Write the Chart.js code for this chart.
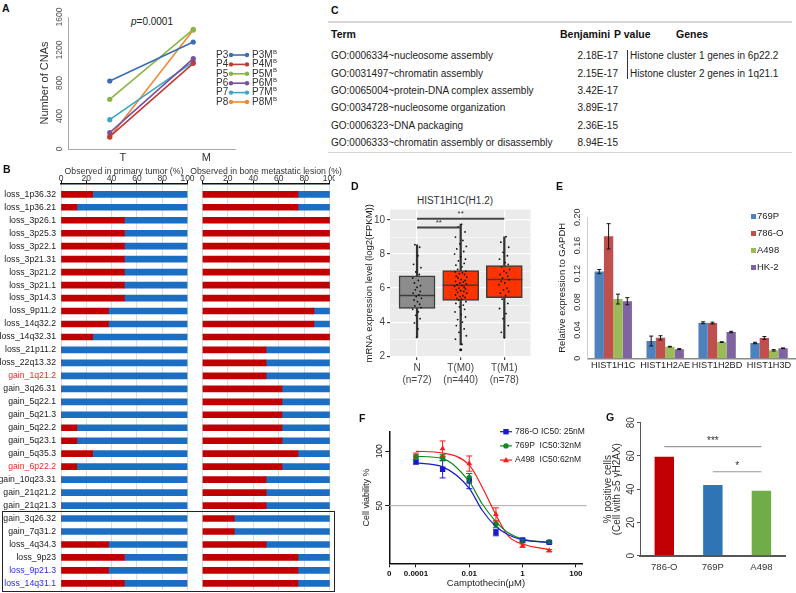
<!DOCTYPE html>
<html>
<head>
<meta charset="utf-8">
<title>CNA / histone figure</title>
<script src="https://cdn.jsdelivr.net/npm/chart.js"></script>
<style>
  body { margin: 0; background: #fff; font-family: "Liberation Sans", Arial, sans-serif; color: #222; }
  #fig { position: relative; width: 796px; height: 593px; overflow: hidden; }
  .t { position: absolute; white-space: nowrap; line-height: 12px; }
  .letter { position: absolute; font-weight: bold; font-size: 10.5px; line-height: 12px; color: #111; }
</style>
</head>
<body>
<div id="fig"></div>
<script>
// ---- A: number of CNAs, primary (T) vs bone metastasis (M)
const cnaStages = ['T', 'M'];
const cnaPatients = ['P3', 'P4', 'P5', 'P6', 'P7', 'P8'];
const cnaPrimary = [824, 150, 602, 198, 355, 142];
const cnaMetastasis = [1297, 1039, 1450, 1095, 1055, 1442];

// ---- B: % of samples with each region
const cnaRegions = ['loss_1p36.32', 'loss_1p36.21', 'loss_3p26.1', 'loss_3p25.3', 'loss_3p22.1', 'loss_3p21.31',
  'loss_3p21.2', 'loss_3p21.1', 'loss_3p14.3', 'loss_9p11.2', 'loss_14q32.2', 'loss_14q32.31', 'loss_21p11.2',
  'loss_22q13.32', 'gain_1q21.2', 'gain_3q26.31', 'gain_5q22.1', 'gain_5q21.3', 'gain_5q22.2', 'gain_5q23.1',
  'gain_5q35.3', 'gain_6p22.2', 'gain_10q23.31', 'gain_21q21.2', 'gain_21q21.3', 'gain_3q26.32', 'gain_7q31.2',
  'loss_4q34.3', 'loss_9p23', 'loss_9p21.3', 'loss_14q31.1'];
const primaryPct = [25, 12.5, 50, 50, 50, 50, 50, 50, 50, 37.5, 37.5, 25, 0, 0,
  0, 0, 0, 0, 12.5, 12.5, 25, 12.5, 0, 0, 0, 0, 0, 37.5, 50, 37.5, 50];
const boneMetPct = [75, 75, 100, 100, 100, 100, 100, 100, 100, 87.5, 87.5, 100, 50, 50,
  50, 62.5, 62.5, 62.5, 62.5, 62.5, 75, 62.5, 50, 50, 50, 25, 25, 50, 75, 75, 75];
const redRegions = ['gain_1q21.2', 'gain_6p22.2'];
const blueRegions = ['loss_9p21.3', 'loss_14q31.1'];

// ---- C: GO table
const goTerms = ['GO:0006334~nucleosome assembly', 'GO:0031497~chromatin assembly',
  'GO:0065004~protein-DNA complex assembly', 'GO:0034728~nucleosome organization',
  'GO:0006323~DNA packaging', 'GO:0006333~chromatin assembly or disassembly'];
const goBenjamini = ['2.18E-17', '2.15E-17', '3.42E-17', '3.89E-17', '2.36E-15', '8.94E-15'];
const goGenes = ['Histone cluster 1 genes in 6p22.2', 'Histone cluster 2 genes in 1q21.1'];

// ---- D: HIST1H1C expression boxplot
const fpkmGroups = ['N', 'T(M0)', 'T(M1)'];
const fpkmCounts = ['(n=72)', '(n=440)', '(n=78)'];
const fpkmLow = [3.1, 2.66, 3.08];
const fpkmQ1 = [4.81, 5.27, 5.44];
const fpkmMedian = [5.57, 6.17, 6.5];
const fpkmQ3 = [6.72, 7.03, 7.32];
const fpkmHigh = [8.55, 9.77, 9.02];
const fpkmTicks = [2, 3, 4, 5, 6, 7, 8, 9, 10];
// [jitter, value] pairs
const fpkmDotsN = [[-0.05, 8.55], [0.06, 8.4], [0.02, 7.9], [-0.08, 7.4], [0.09, 7.2], [-0.03, 6.95], [0.05, 6.8],
  [-0.1, 6.6], [0.03, 6.45], [-0.06, 6.3], [0.08, 6.15], [0, 6.05], [-0.04, 5.9], [0.07, 5.8], [-0.09, 5.7],
  [0.04, 5.6], [-0.02, 5.5], [0.1, 5.4], [-0.07, 5.3], [0.01, 5.2], [0.06, 5.05], [-0.05, 4.95], [0.09, 4.85],
  [-0.1, 4.75], [0.03, 4.6], [-0.03, 4.4], [0.07, 4.2], [-0.06, 3.95], [0.02, 3.6], [-0.01, 3.1]];
const fpkmDotsM0 = [[0.02, 9.75], [-0.06, 9.6], [0.1, 9.3], [-0.12, 9.0], [0.05, 8.8], [-0.02, 8.6], [0.13, 8.45],
  [-0.09, 8.3], [0.07, 8.15], [-0.14, 8.0], [0, 7.85], [0.11, 7.7], [-0.05, 7.6], [0.08, 7.45], [-0.11, 7.35],
  [0.03, 7.25], [-0.07, 7.1], [0.12, 7.0], [-0.13, 6.95], [0.04, 6.9], [-0.03, 6.85], [0.09, 6.8], [-0.1, 6.7],
  [0.14, 6.65], [-0.06, 6.6], [0.01, 6.5], [0.1, 6.45], [-0.12, 6.4], [0.06, 6.35], [-0.02, 6.3], [0.13, 6.25],
  [-0.08, 6.2], [0.03, 6.15], [-0.14, 6.1], [0.08, 6.05], [-0.04, 6.0], [0.11, 5.95], [-0.1, 5.9], [0, 5.85],
  [0.07, 5.8], [-0.07, 5.75], [0.14, 5.7], [-0.12, 5.6], [0.05, 5.55], [-0.01, 5.5], [0.1, 5.45], [-0.09, 5.4],
  [0.02, 5.35], [-0.05, 5.3], [0.12, 5.2], [-0.11, 5.1], [0.06, 5.0], [-0.03, 4.9], [0.09, 4.75], [-0.13, 4.6],
  [0.01, 4.45], [0.11, 4.3], [-0.07, 4.15], [0.04, 4.0], [-0.1, 3.8], [0.08, 3.6], [-0.04, 3.4], [0.13, 3.2],
  [-0.12, 3.0], [0.03, 2.7]];
const fpkmDotsM1 = [[0.04, 9.02], [-0.08, 8.7], [0.1, 8.4], [-0.03, 8.1], [0.07, 7.9], [-0.11, 7.7], [0.02, 7.5],
  [0.09, 7.4], [-0.06, 7.25], [0.12, 7.1], [-0.01, 7.0], [0.05, 6.9], [-0.1, 6.8], [0.08, 6.7], [-0.04, 6.6],
  [0.11, 6.5], [-0.07, 6.4], [0.01, 6.3], [-0.12, 6.2], [0.06, 6.0], [-0.02, 5.9], [0.1, 5.8], [-0.09, 5.7],
  [0.03, 5.55], [-0.05, 5.35], [0.08, 5.1], [-0.11, 4.8], [0.04, 4.5], [-0.03, 4.2], [0.09, 3.8], [-0.07, 3.4],
  [0, 3.08]];
const fpkmOutliers = [[1, 2.37]];
const fpkmSig = [{ from: 0, to: 1, y: 9.56, text: '**' }, { from: 0, to: 2, y: 10.07, text: '**' }];

// ---- E: relative expression to GAPDH
const histGenes = ['HIST1H1C', 'HIST1H2AE', 'HIST1H2BD', 'HIST1H3D'];
const cellLines = ['769P', '786-O', 'A498', 'HK-2'];
const rel769P = [0.123, 0.0245, 0.0505, 0.0217];
const rel786O = [0.173, 0.029, 0.050, 0.0288];
const relA498 = [0.084, 0.0165, 0.023, 0.0113];
const relHK2 = [0.081, 0.013, 0.0373, 0.0142];
const err769P = [0.003, 0.007, 0.0013, 0.001];
const err786O = [0.018, 0.003, 0.0013, 0.002];
const errA498 = [0.007, 0.0005, 0.0005, 0.001];
const errHK2 = [0.005, 0.0007, 0.001, 0.0005];

// ---- F: camptothecin dose response
const viaDose = [0.0001, 0.001, 0.01, 0.1, 1, 10];
const via786O = [90.2, 83.5, 72.6, 25.3, 18.4, 16.2];
const via769P = [94.8, 94.2, 75.6, 33, 17.5, 16.5];
const viaA498 = [95.4, 102.5, 88.7, 42, 13.2, 8.6];
const sd786O = [2, 8, 7, 3, 1, 1];
const sd769P = [2, 3, 4, 3, 1, 1];
const sdA498 = [3, 7, 7, 6, 1.5, 1];
const fitDose = [0.0001, 0.001, 0.01, 0.03, 0.1, 0.3, 1, 10];
const fit786O = [89.3, 85.7, 66, 46, 30.8, 23, 18.6, 16.2];
const fit769P = [95.4, 93.3, 72, 52, 35.4, 24.8, 19.3, 16.2];
const fitA498 = [100, 98.4, 87.2, 67.4, 41.5, 21.7, 14.7, 9.5];
const viaLegend = ['786-O IC50: 25nM', '769P  IC50:32nM', 'A498  IC50:62nM'];
const doseTicks = [0.00001, 0.0001, 0.01, 1, 100];
const doseTickLabels = ['0', '0.0001', '0.01', '1', '100'];

// ---- G: gamma-H2AX positive cells
const gammaLines = ['786-O', '769P', 'A498'];
const gammaPositive = [59.5, 42.5, 39.1];
const gammaTicks = [0, 20, 40, 60, 80];
const gammaSig = [{ from: 0, to: 2, y: 65.6, text: '***' }, { from: 1, to: 2, y: 50.5, text: '*' }];

// ---- styles
const FONT = '"Liberation Sans", Arial, sans-serif';
const patientColors = ['#3b6db4', '#c23b33', '#8ab546', '#7a4f9d', '#37a8c3', '#ef8a30'];
const cellColors = ['#4f81bd', '#c0504d', '#9bbb59', '#8064a2'];
const gammaColors = ['#c00000', '#2e75b6', '#70ad47'];

Chart.defaults.font.family = FONT;
Chart.defaults.color = '#333';
Chart.defaults.animation = false;
Chart.defaults.responsive = false;
Chart.defaults.events = [];
Chart.defaults.plugins.legend.display = false;
Chart.defaults.plugins.tooltip.enabled = false;

const fig = document.getElementById('fig');

function addCanvas(left, top, w, h) {
  const c = document.createElement('canvas');
  c.width = w; c.height = h;
  c.style.cssText = `position:absolute;left:${left}px;top:${top}px;width:${w}px;height:${h}px`;
  fig.appendChild(c);
  return c;
}
function addText(html, x, y, css, cls) {
  const d = document.createElement('div');
  d.className = cls || 't';
  d.innerHTML = html;
  d.style.cssText = `left:${x}px;top:${y - 6}px;` + (css || '');
  fig.appendChild(d);
  return d;
}
function addBox(x, y, w, h, css) {
  const d = document.createElement('div');
  d.style.cssText = `position:absolute;left:${x}px;top:${y}px;width:${w}px;height:${h}px;` + css;
  fig.appendChild(d);
}
// fixed axis box sizes, and no extra label padding from Chart.js
function fixBox(w, h) {
  return s => {
    if (w !== null) s.width = w;
    if (h !== null) s.height = h;
    s.paddingLeft = s.paddingRight = s.paddingTop = s.paddingBottom = 0;
  };
}

// rotated y tick labels (read bottom-to-top like the original)
function rotatedTicks(gap, font, color, fmt) {
  return {
    id: 'rotatedTicks',
    afterDatasetsDraw(chart) {
      const s = chart.scales.y, ctx = chart.ctx;
      const x = chart.chartArea.left - gap;
      ctx.save();
      ctx.font = font;
      ctx.fillStyle = color;
      ctx.textAlign = 'center';
      ctx.textBaseline = 'middle';
      s.ticks.forEach(t => {
        const label = fmt(t.value);
        if (label === '') return;
        ctx.save();
        ctx.translate(x, s.getPixelForValue(t.value));
        ctx.rotate(-Math.PI / 2);
        ctx.fillText(label, 0, 0);
        ctx.restore();
      });
      ctx.restore();
    }
  };
}

function sigLines(items, st) {
  return {
    id: 'sigLines',
    afterDatasetsDraw(chart) {
      const { ctx, scales: { x, y } } = chart;
      ctx.save();
      items.forEach(it => {
        const x1 = x.getPixelForValue(it.from), x2 = x.getPixelForValue(it.to), yy = y.getPixelForValue(it.y);
        ctx.strokeStyle = st.color; ctx.lineWidth = st.width;
        ctx.beginPath(); ctx.moveTo(x1, yy); ctx.lineTo(x2, yy); ctx.stroke();
        ctx.fillStyle = st.textColor; ctx.font = st.font;
        ctx.textAlign = 'center'; ctx.textBaseline = 'bottom';
        ctx.fillText(it.text, (x1 + x2) / 2, yy - st.gap);
      });
      ctx.restore();
    }
  };
}

// ================= A =================
addText('A', 2, 7.5, '', 'letter');
addText('<i>p</i>=0.0001', 152, 22, 'font-size:10px;transform:translateX(-50%);color:#222');

const legendA = {
  id: 'legendA',
  afterDraw(chart) {
    const ctx = chart.ctx;
    ctx.save();
    ctx.textBaseline = 'middle'; ctx.textAlign = 'left';
    chart.data.datasets.forEach((ds, i) => {
      const y = 55 + i * 9.4;
      ctx.font = '10px ' + FONT; ctx.fillStyle = '#333';
      ctx.fillText(ds.label, 216, y);
      ctx.strokeStyle = ds.borderColor; ctx.fillStyle = ds.borderColor; ctx.lineWidth = 1.6;
      ctx.beginPath(); ctx.moveTo(231, y); ctx.lineTo(247, y); ctx.stroke();
      [231, 247].forEach(px => { ctx.beginPath(); ctx.arc(px, y, 2.2, 0, Math.PI * 2); ctx.fill(); });
      ctx.fillStyle = '#333';
      const t = ds.label + 'M';
      ctx.fillText(t, 252, y);
      const w = ctx.measureText(t).width;
      ctx.font = '6px ' + FONT;
      ctx.fillText('B', 252 + w + 0.5, y - 3);
    });
    ctx.restore();
  }
};

new Chart(addCanvas(0, 0, 290, 170), {
  type: 'line',
  data: {
    labels: cnaStages,
    datasets: cnaPatients.map((p, i) => ({
      label: p,
      data: [cnaPrimary[i], cnaMetastasis[i]],
      borderColor: patientColors[i],
      backgroundColor: patientColors[i],
      borderWidth: 1.6,
      pointRadius: 2.6,
      pointBorderWidth: 0
    }))
  },
  options: {
    layout: { padding: { top: 17, right: 55, left: 0, bottom: 0 } },
    scales: {
      x: {
        offset: true,
        grid: { display: false, drawTicks: false },
        border: { color: '#aaa' },
        ticks: { font: { size: 11 }, color: '#333', labelOffset: 13, padding: 2 },
        afterFit: fixBox(null, 21)
      },
      y: {
        min: 0, max: 1600,
        ticks: { stepSize: 400, display: false },
        grid: { display: false, drawTicks: false },
        border: { color: '#aaa' },
        title: { display: true, text: 'Number of CNAs', font: { size: 11 }, color: '#333', padding: { top: 38 } },
        afterFit: fixBox(68, null)
      }
    }
  },
  plugins: [rotatedTicks(8, '8.5px ' + FONT, '#555', v => String(v)), legendA]
});

// ================= B =================
addText('B', 3, 169, '', 'letter');
addText('Observed in primary tumor (%)', 124, 171, 'font-size:8.7px;transform:translateX(-50%);color:#333');
addText('Observed in bone metastatic lesion (%)', 266, 171, 'font-size:8.7px;transform:translateX(-50%);color:#333');

function regionColor(r) {
  if (redRegions.includes(r)) return '#ee2a2a';
  if (blueRegions.includes(r)) return '#2a2aee';
  return '#222';
}

function regionChart(canvas, pct, showLabels, yWidth, rightPad) {
  return new Chart(canvas, {
    type: 'bar',
    data: {
      datasets: [
        { data: pct.map((v, i) => ({ x: [0, v], y: i })), backgroundColor: '#c00000', barThickness: 6, grouped: false },
        { data: pct.map((v, i) => ({ x: [v, 100], y: i })), backgroundColor: '#1b6ec2', barThickness: 6, grouped: false }
      ]
    },
    options: {
      indexAxis: 'y',
      layout: { padding: { top: 0, right: rightPad, bottom: 3, left: 0 } },
      scales: {
        x: {
          position: 'top', min: 0, max: 100,
          ticks: { stepSize: 20, font: { size: 8.5 }, color: '#333', padding: -3, maxRotation: 0 },
          grid: { color: '#dcdcdc', tickColor: '#111', tickLength: 3 },
          border: { color: '#111', width: 1.5 },
          afterFit: fixBox(null, 23.3)
        },
        y: {
          type: 'linear', reverse: true, min: -0.85, max: 30.51, offset: false,
          afterBuildTicks: s => { s.ticks = cnaRegions.map((r, i) => ({ value: i })); },
          ticks: {
            display: showLabels, autoSkip: false, padding: 5, font: { size: 8.7 },
            callback: v => cnaRegions[v],
            color: c => regionColor(cnaRegions[c.index])
          },
          grid: { display: false, drawTicks: false, offset: false },
          border: { display: false },
          afterFit: fixBox(yWidth, null)
        }
      }
    }
  });
}
regionChart(addCanvas(0, 160, 195, 433), primaryPct, true, 61, 7.5);
regionChart(addCanvas(195, 160, 140, 433), boneMetPct, false, 7.3, 5.2);
addBox(2, 511, 331, 79, 'border:1px solid #222;');

// ================= C =================
addText('C', 331, 9.5, '', 'letter');
addBox(328, 21, 464, 1.5, 'background:#d6d6d6;');
addBox(328, 151.5, 464, 1.5, 'background:#d6d6d6;');
const hdr = 'font-size:10.5px;font-weight:bold;color:#111;';
addText('Term', 331, 34, hdr);
addText('Benjamini', 560, 34, hdr);
addText('P value', 614, 34, hdr);
addText('Genes', 676, 34, hdr);
const goRowY = [56, 73.5, 91, 108, 125.5, 142.5];
goTerms.forEach((term, i) => {
  addText(term, 331, goRowY[i], 'font-size:10px;color:#222;');
  addText(goBenjamini[i], 618, goRowY[i], 'font-size:10px;color:#222;transform:translateX(-100%);');
});
goGenes.forEach((g, i) => addText(g, 630, goRowY[i], 'font-size:10px;color:#222;'));
addBox(627, 50, 1, 29, 'background:#333;');

// ================= D =================
addText('D', 351, 185.5, '', 'letter');
addText('HIST1H1C(H1.2)', 455, 201, 'font-size:10px;color:#333;transform:translateX(-50%);');

const panelBackground = {
  id: 'panelBackground',
  beforeDraw(chart) {
    const { ctx, chartArea: a } = chart;
    ctx.save();
    ctx.fillStyle = '#ebebeb';
    ctx.fillRect(a.left, a.top, a.width, a.height);
    ctx.restore();
  }
};

const jitter = (pairs, g) => pairs.map(p => ({ x: g + p[0], y: p[1] }));
const isMajor = c => c.tick && c.tick.value % 2 === 0;

new Chart(addCanvas(340, 190, 210, 200), {
  type: 'bar',
  data: {
    datasets: [
      {
        type: 'bar', order: 4, grouped: false, barThickness: 1.6, backgroundColor: '#333',
        data: fpkmGroups.map((g, i) => ({ x: i, y: [fpkmLow[i], fpkmHigh[i]] }))
      },
      {
        type: 'bar', order: 3, grouped: false, barThickness: 36,
        backgroundColor: ['#8c8c8c', '#ff3300', '#ff3300'],
        borderColor: '#3d3d3d', borderWidth: 1.5, borderSkipped: false,
        data: fpkmGroups.map((g, i) => ({ x: i, y: [fpkmQ1[i], fpkmQ3[i]] }))
      },
      {
        type: 'scatter', order: 2, pointStyle: 'line', pointRadius: 18,
        pointBorderColor: '#3d3d3d', pointBorderWidth: 1.5,
        data: fpkmGroups.map((g, i) => ({ x: i, y: fpkmMedian[i] }))
      },
      {
        type: 'scatter', order: 1, pointRadius: 0.9, pointBackgroundColor: '#111', pointBorderWidth: 0,
        data: [...jitter(fpkmDotsN, 0), ...jitter(fpkmDotsM0, 1), ...jitter(fpkmDotsM1, 2)]
      },
      {
        type: 'scatter', order: 0, pointRadius: 1.5, pointBackgroundColor: '#111', pointBorderWidth: 0,
        data: fpkmOutliers.map(p => ({ x: p[0], y: p[1] }))
      }
    ]
  },
  options: {
    layout: { padding: { top: 18, right: 7, left: 0, bottom: 0 } },
    scales: {
      x: {
        type: 'linear', min: -0.62, max: 2.6, offset: false,
        afterBuildTicks: s => { s.ticks = fpkmGroups.map((g, i) => ({ value: i })); },
        ticks: {
          callback: v => [fpkmGroups[v], fpkmCounts[v]],
          font: { size: 10 }, color: '#444', padding: 2, maxRotation: 0, autoSkip: false
        },
        grid: { color: '#fff', lineWidth: 1.2, tickColor: '#444', tickLength: 3, offset: false },
        border: { display: false },
        afterFit: fixBox(null, 33)
      },
      y: {
        min: 1.95, max: 10.62,
        afterBuildTicks: s => { s.ticks = fpkmTicks.map(v => ({ value: v })); },
        ticks: { callback: v => (v % 2 === 0 ? String(v) : ''), font: { size: 10 }, color: '#444', padding: 2 },
        grid: {
          color: '#fff',
          lineWidth: c => (isMajor(c) ? 1.2 : 0.5),
          tickColor: c => (isMajor(c) ? '#444' : 'rgba(0,0,0,0)'),
          tickLength: 3
        },
        border: { display: false },
        title: { display: true, text: 'mRNA expression level (log2(FPKM))', font: { size: 9.5 }, color: '#222', padding: { top: 24 } },
        afterFit: fixBox(50, null)
      }
    }
  },
  plugins: [panelBackground, sigLines(fpkmSig, { color: '#444', width: 2, textColor: '#333', font: '8px ' + FONT, gap: 1 })]
});

// ================= E =================
addText('E', 556, 185.5, '', 'letter');
const relExpr = [rel769P, rel786O, relA498, relHK2];
const relErr = [err769P, err786O, errA498, errHK2];
const legendRowY = [216, 233, 250, 267];
cellLines.forEach((c, k) => {
  addBox(750.5, legendRowY[k] - 2.5, 5, 5, 'background:' + cellColors[k] + ';');
  addText(c, 757, legendRowY[k], 'font-size:9.5px;color:#222;');
});

const errorBarsE = {
  id: 'errorBarsE',
  afterDatasetsDraw(chart) {
    const ctx = chart.ctx, y = chart.scales.y;
    ctx.save();
    ctx.strokeStyle = '#111'; ctx.lineWidth = 1;
    chart.data.datasets.forEach((ds, di) => {
      chart.getDatasetMeta(di).data.forEach((bar, j) => {
        const v = ds.data[j], e = ds.errors[j];
        const top = y.getPixelForValue(v + e), bot = y.getPixelForValue(v - e);
        ctx.beginPath();
        ctx.moveTo(bar.x, top); ctx.lineTo(bar.x, bot);
        ctx.moveTo(bar.x - 2, top); ctx.lineTo(bar.x + 2, top);
        ctx.moveTo(bar.x - 2, bot); ctx.lineTo(bar.x + 2, bot);
        ctx.stroke();
      });
    });
    ctx.restore();
  }
};

new Chart(addCanvas(548, 200, 248, 182), {
  type: 'bar',
  data: {
    labels: histGenes,
    datasets: cellLines.map((c, k) => ({
      label: c, data: relExpr[k], errors: relErr[k],
      backgroundColor: cellColors[k], categoryPercentage: 0.72, barPercentage: 1
    }))
  },
  options: {
    layout: { padding: { top: 17.3, right: 1, left: 0, bottom: 0 } },
    scales: {
      x: {
        grid: { display: false, drawTicks: false },
        border: { color: '#8a8a8a', width: 1.5 },
        ticks: { font: { size: 9.2 }, color: '#222', padding: 2, maxRotation: 0, autoSkip: false },
        afterFit: fixBox(null, 23.7)
      },
      y: {
        min: 0, max: 0.2,
        ticks: { stepSize: 0.04, display: false },
        grid: { display: false, drawTicks: false },
        border: { color: '#cfcfcf' },
        title: { display: true, text: 'Relative expression to GAPDH', font: { size: 9.5 }, color: '#222', padding: { top: 8.3 } },
        afterFit: fixBox(39.3, null)
      }
    }
  },
  plugins: [rotatedTicks(9.5, '9px ' + FONT, '#333', v => (v === 0 ? '0' : v.toFixed(2))), errorBarsE]
});

// ================= F =================
addText('F', 359, 417.5, '', 'letter');

function drawMarker(ctx, style, x, y, color) {
  ctx.fillStyle = color;
  ctx.beginPath();
  if (style === 'rect') ctx.rect(x - 2.7, y - 2.7, 5.4, 5.4);
  else if (style === 'triangle') { ctx.moveTo(x, y - 3.2); ctx.lineTo(x + 3, y + 2.2); ctx.lineTo(x - 3, y + 2.2); ctx.closePath(); }
  else ctx.arc(x, y, 2.7, 0, Math.PI * 2);
  ctx.fill();
}

const fiftyLine = {
  id: 'fiftyLine',
  beforeDatasetsDraw(chart) {
    const { ctx, chartArea: a, scales: { y } } = chart;
    const yy = y.getPixelForValue(50);
    ctx.save();
    ctx.strokeStyle = '#aaa'; ctx.lineWidth = 1;
    ctx.beginPath(); ctx.moveTo(a.left, yy); ctx.lineTo(a.right + 4, yy); ctx.stroke();
    ctx.restore();
  }
};

const errorBarsF = {
  id: 'errorBarsF',
  afterDatasetsDraw(chart) {
    const { ctx, scales: { x, y } } = chart;
    ctx.save();
    chart.data.datasets.forEach(ds => {
      if (!ds.errors) return;
      ctx.strokeStyle = ds.borderColor; ctx.lineWidth = 1;
      ds.data.forEach((p, j) => {
        const px = x.getPixelForValue(p.x);
        const top = y.getPixelForValue(p.y + ds.errors[j]), bot = y.getPixelForValue(p.y - ds.errors[j]);
        ctx.beginPath();
        ctx.moveTo(px, top); ctx.lineTo(px, bot);
        ctx.moveTo(px - 3, top); ctx.lineTo(px + 3, top);
        ctx.moveTo(px - 3, bot); ctx.lineTo(px + 3, bot);
        ctx.stroke();
      });
    });
    ctx.restore();
  }
};

const legendF = {
  id: 'legendF',
  afterDraw(chart) {
    const ctx = chart.ctx;
    ctx.save();
    ctx.font = '8.5px ' + FONT; ctx.textBaseline = 'middle'; ctx.textAlign = 'left';
    viaLegend.forEach((text, i) => {
      const ds = chart.data.datasets[3 + i];
      const y = 11.7 + i * 14.2;
      ctx.strokeStyle = ds.borderColor; ctx.lineWidth = 1.2;
      ctx.beginPath(); ctx.moveTo(145, y); ctx.lineTo(157, y); ctx.stroke();
      drawMarker(ctx, ds.pointStyle, 151, y, ds.backgroundColor);
      ctx.fillStyle = '#222';
      ctx.fillText(text, 160, y);
    });
    ctx.restore();
  }
};

const fitSet = (vals, color) => ({
  data: fitDose.map((d, j) => ({ x: d, y: vals[j] })),
  showLine: true, pointRadius: 0, borderColor: color, borderWidth: 1.2, cubicInterpolationMode: 'monotone'
});
const pointSet = (vals, sd, color, style, r) => ({
  data: viaDose.map((d, j) => ({ x: d, y: vals[j] })), errors: sd,
  pointStyle: style, pointRadius: r, backgroundColor: color, borderColor: color, pointBorderWidth: 0
});

new Chart(addCanvas(355, 420, 240, 173), {
  type: 'scatter',
  data: {
    datasets: [
      fitSet(fit786O, '#1a1acc'),
      fitSet(fit769P, '#118a22'),
      fitSet(fitA498, '#ff1a1a'),
      pointSet(via786O, sd786O, '#1a1acc', 'rect', 3.8),
      pointSet(via769P, sd769P, '#118a22', 'circle', 2.8),
      pointSet(viaA498, sdA498, '#ff1a1a', 'triangle', 3.3)
    ]
  },
  options: {
    layout: { padding: { top: 11.7, right: 12.3, left: 0, bottom: 0 } },
    scales: {
      x: {
        type: 'logarithmic', min: 0.00001, max: 180,
        afterBuildTicks: s => { s.ticks = doseTicks.map(v => ({ value: v })); },
        ticks: {
          callback: (v, i) => doseTickLabels[i],
          font: { size: 8, weight: 'bold' }, color: '#111', padding: 2, maxRotation: 0, autoSkip: false
        },
        grid: { drawOnChartArea: false, color: '#111', tickLength: 4 },
        border: { color: '#111', width: 1.5 },
        title: { display: true, text: 'Camptothecin(μM)', font: { size: 9.5 }, color: '#222', padding: { top: 0, bottom: 4.3 } },
        afterFit: fixBox(null, 29.7)
      },
      y: {
        min: -3, max: 118,
        afterBuildTicks: s => { s.ticks = [50, 100].map(v => ({ value: v })); },
        ticks: { display: false },
        grid: { drawOnChartArea: false, color: '#111', tickLength: 4 },
        border: { color: '#111', width: 1.5 },
        title: { display: true, text: 'Cell viability %', font: { size: 9 }, color: '#222', padding: { top: 6.3 } },
        afterFit: fixBox(34.3, null)
      }
    }
  },
  plugins: [fiftyLine, errorBarsF, legendF, rotatedTicks(9.5, '8.5px ' + FONT, '#222', v => String(v))]
});

// ================= G =================
addText('G', 606, 416.5, '', 'letter');

new Chart(addCanvas(598, 415, 198, 170), {
  type: 'bar',
  data: {
    labels: gammaLines,
    datasets: [{ data: gammaPositive, backgroundColor: gammaColors, barPercentage: 0.4, categoryPercentage: 1 }]
  },
  options: {
    layout: { padding: { top: 7.7, right: 10.3, left: 0, bottom: 0 } },
    scales: {
      x: {
        grid: { display: false, drawTicks: false },
        border: { color: '#555', width: 2 },
        ticks: { font: { size: 9.5 }, color: '#333', padding: 6 },
        afterFit: fixBox(null, 29.3)
      },
      y: {
        min: 0, max: 80,
        afterBuildTicks: s => { s.ticks = gammaTicks.map(v => ({ value: v })); },
        ticks: { display: false },
        grid: { drawOnChartArea: false, color: '#555', tickLength: 3 },
        border: { color: '#555', width: 1 },
        title: {
          display: true, text: ['% positive cells', '(Cell with ≥5 γH2AX)'],
          font: { size: 10, lineHeight: 0.95 }, color: '#333', padding: { top: 5 }
        },
        afterFit: fixBox(42, null)
      }
    }
  },
  plugins: [
    rotatedTicks(8.3, '10px ' + FONT, '#333', v => String(v)),
    sigLines(gammaSig, { color: '#999', width: 1.2, textColor: '#333', font: '10px ' + FONT, gap: 0 })
  ]
});
</script>
</body>
</html>
